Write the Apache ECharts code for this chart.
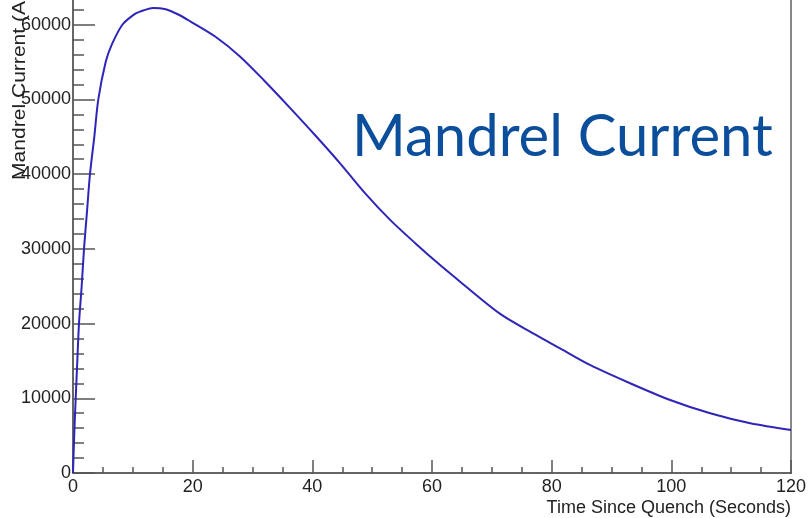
<!DOCTYPE html>
<html>
<head>
<meta charset="utf-8">
<script src="https://cdn.jsdelivr.net/npm/echarts@6/dist/echarts.min.js"></script>
<style>
  html, body { margin: 0; padding: 0; background: #ffffff; }
  #chart { width: 809px; height: 518px; }
</style>
</head>
<body>
<div id="chart"></div>
<script>
// Mandrel current after a quench: time (s) and current (A)
const timeSec = [0, 0.2, 0.45, 0.72, 1.0, 1.45, 1.84, 2.34, 2.84, 3.56, 4.23, 5.46, 6.46, 8.25,
  10.1, 11.2, 13.4, 15.5, 17.5, 19.6, 23.7, 27.9, 32.1, 36.3, 40.4, 44.6, 48.8,
  53.0, 57.2, 61.3, 64.7, 71.4, 76.9, 81.4, 86.4, 93.1, 99.8, 106.5, 113.2, 120];
const currentAmps = [0, 5000, 10000, 15000, 20000, 25000, 30000, 35000, 40000, 45000, 50000, 55000, 57300, 60000,
  61310, 61750, 62250, 62070, 61400, 60450, 58450, 55760, 52400, 48840, 45270, 41480, 37460,
  33880, 30760, 27860, 25610, 21300, 18700, 16690, 14460, 12010, 9770, 7990, 6650, 5760];

const xTicks = { min: 0, max: 120, interval: 20 };
const yTicks = { min: 0, max: 70000, interval: 10000 };

const chartTitle = 'Mandrel Current';
const xTitle = 'Time Since Quench (Seconds)';
const yTitle = 'Mandrel Current (Amps)';

const chart = echarts.init(document.getElementById('chart'), null, { renderer: 'canvas' });

const axisFont = 'Liberation Sans';
const tickStyle = { color: '#555', width: 1.5 };

chart.setOption({
  animation: false,
  backgroundColor: '#ffffff',
  title: {
    text: chartTitle,
    left: 347,
    top: 103,
    textStyle: { fontFamily: 'Lato', fontSize: 58, fontWeight: 'normal', color: '#0b4f9c' }
  },
  // the frame runs above the visible area, as in the original ROOT canvas
  grid: { left: 73, right: 18, top: -50, bottom: 45, containLabel: false, outerBoundsMode: 'none' },
  xAxis: {
    type: 'value',
    min: xTicks.min, max: xTicks.max, interval: xTicks.interval,
    axisLine: { show: true, lineStyle: { color: '#333', width: 1.5 } },
    axisTick: { show: true, inside: true, length: 13, lineStyle: tickStyle },
    minorTick: { show: true, splitNumber: 4, length: 6, lineStyle: tickStyle },
    splitLine: { show: false },
    axisLabel: { color: '#222', fontSize: 18, fontFamily: axisFont, margin: 5,
      formatter: v => String(v) },
    name: xTitle,
    nameLocation: 'end',
    nameGap: 0,
    nameMoveOverlap: false,
    nameTextStyle: { color: '#222', fontSize: 18, fontFamily: axisFont,
      align: 'right', verticalAlign: 'top', padding: [26, 0, 0, 0] }
  },
  yAxis: [{
    type: 'value',
    min: yTicks.min, max: yTicks.max, interval: yTicks.interval,
    axisLine: { show: true, lineStyle: { color: '#333', width: 1.5 } },
    axisTick: { show: true, inside: true, length: 22, lineStyle: tickStyle },
    minorTick: { show: true, splitNumber: 5, length: 11, lineStyle: tickStyle },
    splitLine: { show: false },
    axisLabel: { color: '#222', fontSize: 18, fontFamily: axisFont, margin: 2,
      formatter: v => String(v) }
  }, {
    type: 'value',
    position: 'right',
    min: yTicks.min, max: yTicks.max, interval: yTicks.interval,
    axisLine: { show: true, lineStyle: { color: '#888', width: 2 } },
    axisTick: { show: false },
    axisLabel: { show: false },
    splitLine: { show: false }
  }],
  graphic: [{
    type: 'text',
    x: 20,
    y: 180,
    rotation: Math.PI / 2,
    scaleX: 1.17,
    style: {
      text: yTitle,
      font: '18px "Liberation Sans"',
      fill: '#222',
      align: 'left',
      verticalAlign: 'middle'
    }
  }],
  series: [{
    type: 'line',
    yAxisIndex: 0,
    data: timeSec.map((t, i) => [t, currentAmps[i]]),
    showSymbol: false,
    smooth: 0.3,
    lineStyle: { color: '#2f25b8', width: 2 }
  }]
});
</script>
</body>
</html>
